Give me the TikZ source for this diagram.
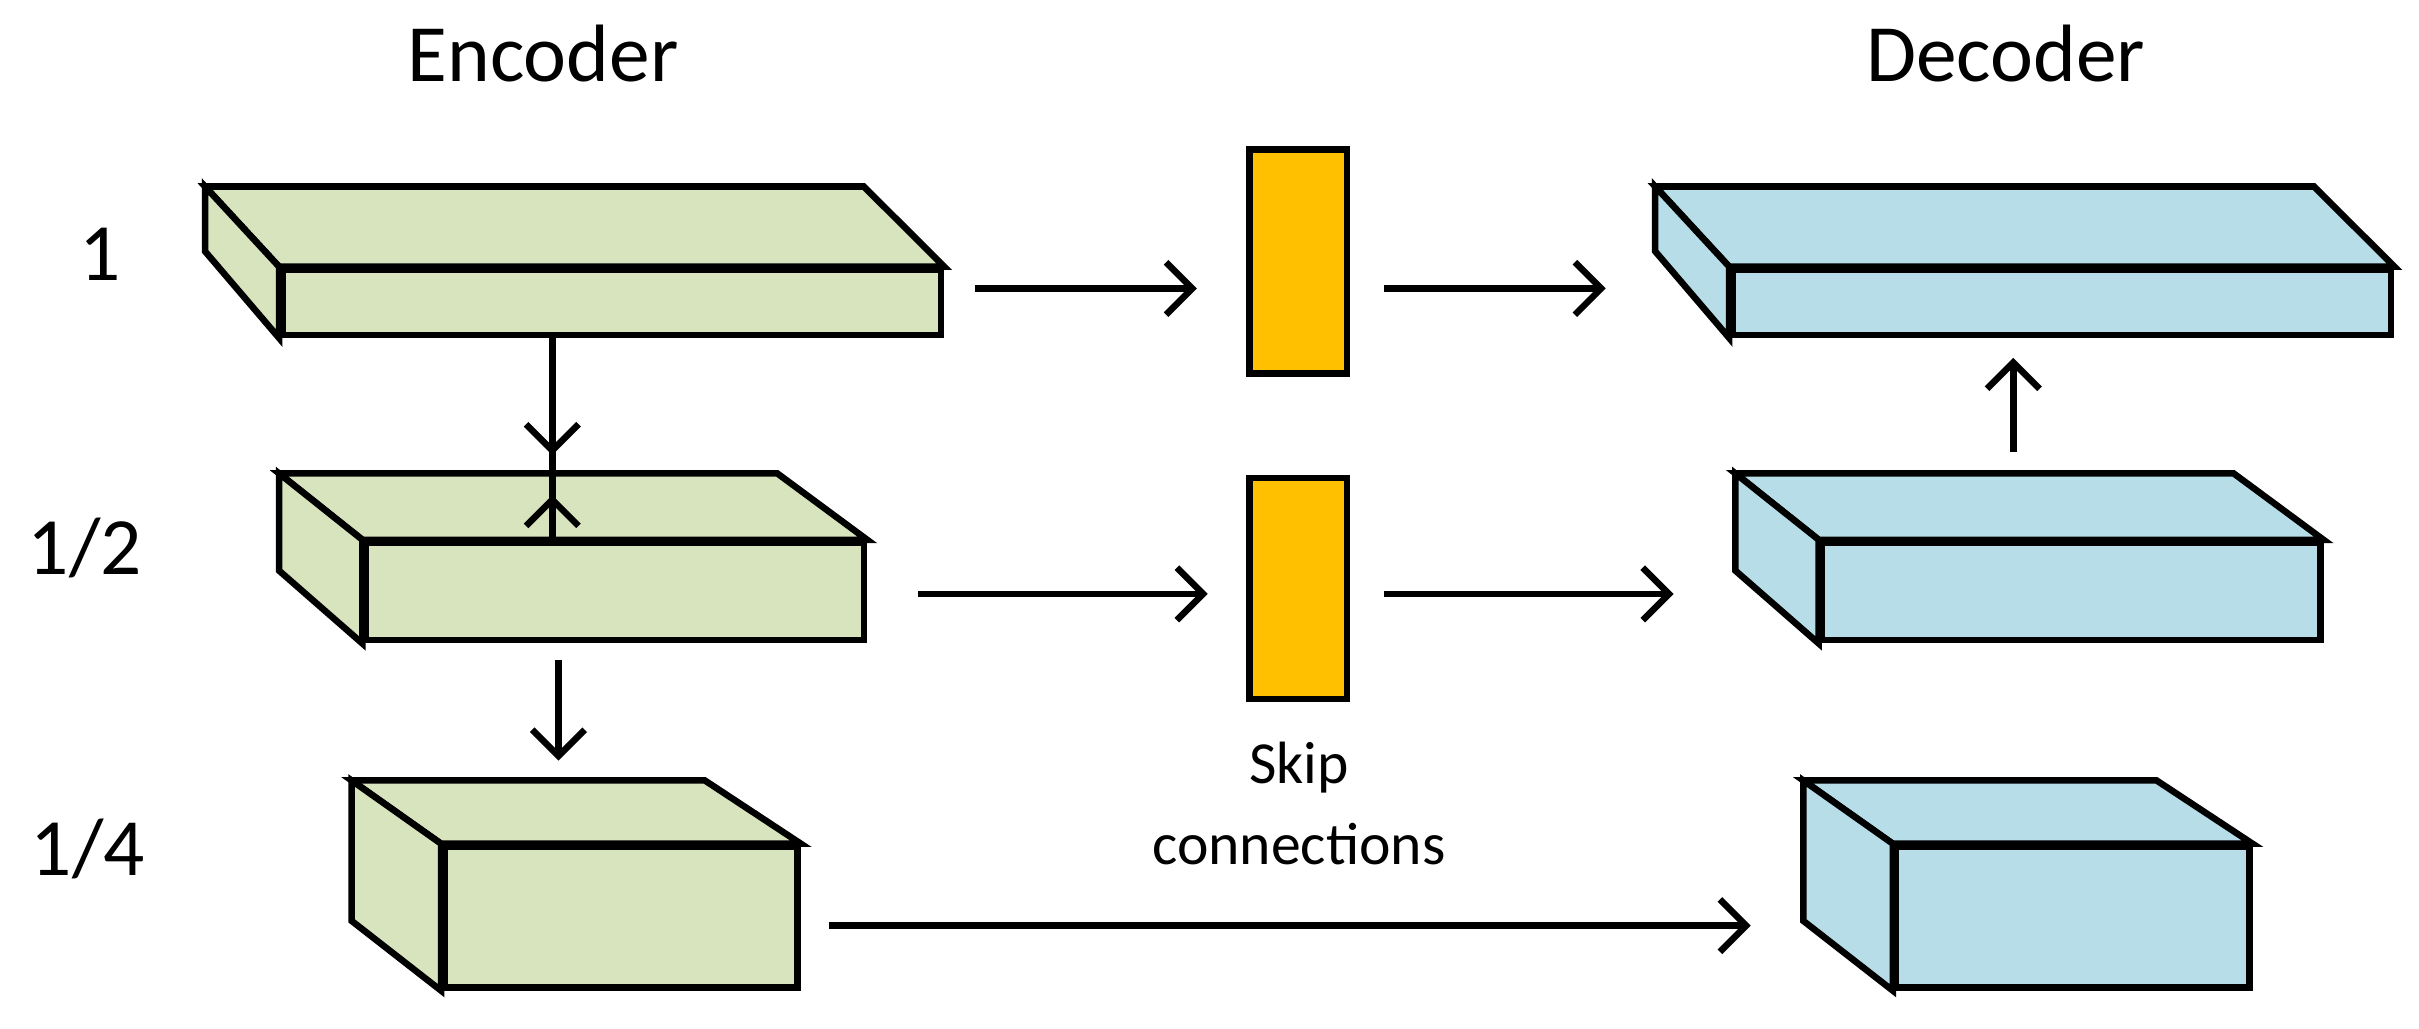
\documentclass[tikz,border=0pt]{standalone}
\usepackage{fontspec}
\setmainfont{Carlito}
\usetikzlibrary{arrows.meta,calc}
\definecolor{encgreen}{HTML}{D7E4BD}
\definecolor{decblue}{HTML}{B7DEE8}
\definecolor{skiporange}{HTML}{FFC000}
\tikzset{
  edge/.style={line width=1.2pt, line join=miter},
  arr/.style={line width=1.2pt, -{Straight Barb[length=1.7mm,width=3.4mm,line width=1.2pt]}},
  lbl/.style={font=\fontsize{15}{17}\selectfont},
}
% prism: name, left, right, top, bottom (front face), depth x, depth y, colour
\newcommand\prism[8]{%
  \node[edge, draw, fill=#8, inner sep=0, minimum width={(#3-#2)*0.01cm}, minimum height={(#5-#4)*0.01cm}] (#1) at ({(#2+#3)/2},{(#4+#5)/2}) {};
  \draw[edge, fill=#8] (#1.north west) -- ++(-#6,-#7) -- ++({#3-#2},0) -- (#1.north east) -- cycle;
  \draw[edge, fill=#8] (#1.north west) -- ++(-#6,-#7) -- ++(0,{#5-#4}) -- (#1.south west) -- cycle;
}
\begin{document}
\begin{tikzpicture}[x=0.01cm, y=-0.01cm]
\useasboundingbox (0,0) rectangle (1568,667);

% encoder
\prism{e1}{183}{610}{175}{217}{48}{52}{encgreen}
\prism{e2}{237}{560}{352}{415}{54}{43}{encgreen}
\prism{e3}{288}{517}{549}{640}{58}{41}{encgreen}
% decoder
\prism{d1}{1123}{1550}{175}{217}{48}{52}{decblue}
\prism{d2}{1181}{1504}{352}{415}{54}{43}{decblue}
\prism{d3}{1229}{1458}{549}{640}{58}{41}{decblue}
% skip blocks
\node[edge, draw, fill=skiporange, minimum width=0.63cm, minimum height=1.45cm, inner sep=0] (s1) at (841.5,169.5) {};
\node[edge, draw, fill=skiporange, minimum width=0.63cm, minimum height=1.43cm, inner sep=0] (s2) at (841.5,381.5) {};

\node[lbl] (enc) at (352,35) {Encoder};
\node[lbl] (dec) at (1300,35) {Decoder};
\node[lbl] (r1) at (65,165) {1};
\node[lbl] (r2) at (55,355) {1/2};
\node[lbl] (r3) at (57,550) {1/4};
\node[font=\fontsize{11}{15}\selectfont, align=center] (skip) at (842,521) {Skip\\connections};

% connectors
\draw[arr, shorten <=0.2cm, shorten >=0.32cm] (e1.east |- 0,187) -- (s1.west |- 0,187);
\draw[arr, shorten <=0.22cm, shorten >=0.8cm] (s1.east |- 0,187) -- (d1.west |- 0,187);
\draw[arr, shorten <=0.33cm, shorten >=0.25cm] (e2.east |- 0,385) -- (s2.west |- 0,385);
\draw[arr, shorten <=0.22cm, shorten >=0.94cm] (s2.east |- 0,385) -- (d2.west |- 0,385);
\draw[arr, shorten <=0.18cm, shorten >=0.92cm] (e3.east |- 0,600) -- (d3.west |- 0,600);
\draw[arr, shorten <=0.11cm, shorten >=0.14cm] (e1.south -| 358,0) -- (e2.north -| 358,0) ++(0,-43);
\draw[arr] (358,228) -- (358,295);
\draw[arr] (362,428) -- (362,493);
\draw[arr] (d2.north -| 1305,0) ++(0,-57) -- (1305,232);
\end{tikzpicture}
\end{document}
